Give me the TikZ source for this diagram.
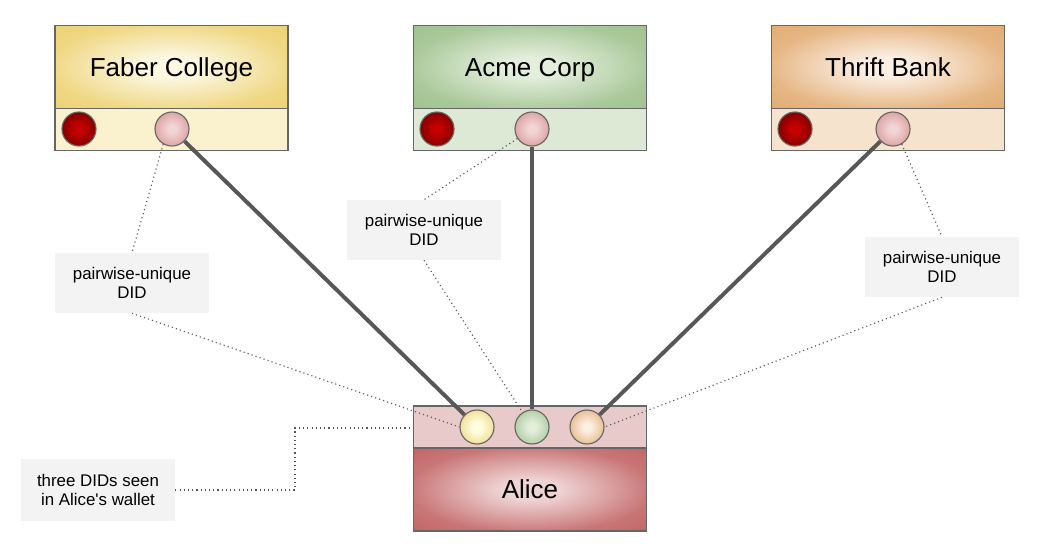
\documentclass[tikz,border=0pt]{standalone}
\usepackage{fontspec}
\setmainfont{Liberation Sans}
\usetikzlibrary{positioning}

\definecolor{edgegray}{HTML}{666666}
\definecolor{linkgray}{HTML}{575757}
\definecolor{hintgray}{HTML}{555555}
\definecolor{notefill}{HTML}{F3F3F3}
\definecolor{faberin}{HTML}{FCF8E2}
\definecolor{faberout}{HTML}{EDD274}
\definecolor{faberlow}{HTML}{FAF1CF}
\definecolor{acmein}{HTML}{E3EEDC}
\definecolor{acmeout}{HTML}{A0C28F}
\definecolor{acmelow}{HTML}{DDE9D4}
\definecolor{thriftin}{HTML}{FBEEE2}
\definecolor{thriftout}{HTML}{E2AC72}
\definecolor{thriftlow}{HTML}{F5E3CE}
\definecolor{alicein}{HTML}{EFD4D4}
\definecolor{aliceout}{HTML}{C26566}
\definecolor{alicelow}{HTML}{E8CACB}
\definecolor{pairin}{HTML}{F2D4D4}
\definecolor{pairout}{HTML}{D89A9B}
\definecolor{keyin}{HTML}{C40000}
\definecolor{keyout}{HTML}{760000}

\colorlet{glowin}{white}
\colorlet{glowout}{black}
\pgfdeclareradialshading[glowin,glowout]{glow}{\pgfpoint{0bp}{0bp}}{%
  color(0bp)=(glowin); color(6bp)=(glowin);
  color(18bp)=(glowin!50!glowout); color(26bp)=(glowin!15!glowout);
  color(36bp)=(glowout); color(50bp)=(glowout)}

\begin{document}
\begin{tikzpicture}[x=0.025cm, y=-0.025cm,
    glowing/.style 2 args={shading=glow,
      /utils/exec={\colorlet{glowin}{#1}\colorlet{glowout}{#2}}},
    header/.style={draw=edgegray, line width=1pt, outer sep=0pt,
      minimum width=5.825cm, minimum height=2.075cm, text depth=0pt,
      font=\fontsize{18.5}{21}\selectfont},
    strip/.style={draw=edgegray, line width=1pt, outer sep=0pt,
      minimum width=5.825cm, minimum height=1.05cm},
    didball/.style={circle, draw=edgegray, line width=0.8pt,
      minimum size=0.85cm, inner sep=0pt},
    keyball/.style={didball, glowing={keyin}{keyout}},
    pairball/.style={didball, glowing={pairin}{pairout}},
    note/.style={fill=notefill, align=center, inner sep=0pt,
      minimum width=3.85cm, minimum height=1.5cm,
      font=\fontsize{12}{13.5}\selectfont},
    link/.style={draw=linkgray, line width=2.8pt},
    hint/.style={draw=hintgray, line width=0.8pt, dash pattern=on 0.8pt off 2.2pt}]

  \useasboundingbox (0,0) rectangle (1062,550);

  % organisations
  \node[header, glowing={faberin}{faberout}] (faber) at (171.5,67) {Faber College};
  \node[strip, fill=faberlow, below=0pt of faber] (faberstrip) {};
  \node[header, glowing={acmein}{acmeout}] (acme) at (530,67) {Acme Corp};
  \node[strip, fill=acmelow, below=0pt of acme] (acmestrip) {};
  \node[header, glowing={thriftin}{thriftout}] (thrift) at (888,67) {Thrift Bank};
  \node[strip, fill=thriftlow, below=0pt of thrift] (thriftstrip) {};

  \node[keyball] (faberkey) at (79,129) {};
  \node[pairball] (faberdid) at (172,129) {};
  \node[keyball] (acmekey) at (437,129) {};
  \node[pairball] (acmedid) at (532,129) {};
  \node[keyball] (thriftkey) at (795,129) {};
  \node[pairball] (thriftdid) at (893,129) {};

  % Alice
  \node[strip, fill=alicelow] (alicewallet) at (530,427) {};
  \node[header, glowing={alicein}{aliceout}, below=0pt of alicewallet] (alice) {Alice};
  \node[didball, glowing={yellow!12!white}{faberout!85!white}] (alicefaber) at (477,427) {};
  \node[didball, glowing={acmein}{acmeout!90!white}] (aliceacme) at (532,427) {};
  \node[didball, glowing={thriftin}{thriftout!90!white}] (alicethrift) at (587,427) {};

  % notes
  \node[note] (faberlabel) at (132,283) {pairwise-unique\\DID};
  \node[note] (acmelabel) at (424,230) {pairwise-unique\\DID};
  \node[note] (thriftlabel) at (942,267) {pairwise-unique\\DID};
  \node[note, minimum height=1.55cm] (walletlabel) at (98,490) {three DIDs seen\\in Alice\textquotesingle s wallet};
  \coordinate (bend) at (295,428);

  \draw[hint] (faberdid.240) -- (faberlabel.north);
  \draw[hint] (faberlabel.south) -- (alicefaber.west);
  \draw[hint] (acmedid) -- (acmelabel.north);
  \draw[hint] (acmelabel.south) -- (aliceacme);
  \draw[hint] (thriftdid.-60) -- (thriftlabel.north);
  \draw[hint] (thriftlabel.south) -- (alicethrift.east);
  \draw[hint] (walletlabel.east) -| (bend) -- (alicewallet.west |- bend);

  \draw[link] (faberdid) -- (alicefaber);
  \draw[link] (acmedid) -- (aliceacme);
  \draw[link] (thriftdid) -- (alicethrift);
\end{tikzpicture}
\end{document}
